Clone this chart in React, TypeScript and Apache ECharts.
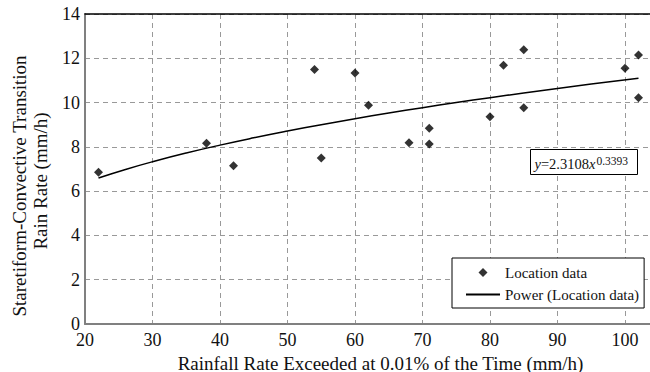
import React, { useEffect, useRef } from "react";
import * as echarts from "echarts";

const rainfallRate = [22, 38, 42, 54, 55, 60, 62, 68, 71, 71, 80, 82, 85, 85, 100, 102, 102];
const transitionRate = [6.85, 8.16, 7.15, 11.49, 7.5, 11.34, 9.88, 8.18, 8.84, 8.13, 9.36, 11.68, 12.38, 9.77, 11.55, 12.15, 10.22];

// Power trendline y = a * x^b, as printed on the chart
const fitA = 2.3108;
const fitB = 0.3393;
const fitX = [22, 26, 30, 35, 40, 45, 50, 55, 60, 65, 70, 75, 80, 85, 90, 95, 102];

const xTicks = [20, 30, 40, 50, 60, 70, 80, 90, 100];
const yTicks = [0, 2, 4, 6, 8, 10, 12, 14];

const yTitleLine1 = "Staretiform-Convective Transition";
const yTitleLine2 = "Rain Rate (mm/h)";

const FONT = "Liberation Serif";

export default function App() {
  const ref = useRef<HTMLDivElement>(null);
  useEffect(() => {
    if (!ref.current) return;
    const chart = echarts.init(ref.current, undefined, { renderer: "svg" });
    const scatterData = rainfallRate.map((x, i) => [x, transitionRate[i]]);
    const fitData = fitX.map((x) => [x, fitA * Math.pow(x, fitB)]);
    chart.setOption({
      animation: false,
      backgroundColor: "#ffffff",
      textStyle: { fontFamily: FONT },
      grid: {
        left: 85,
        top: 14,
        right: -2,
        bottom: 48,
        containLabel: false,
        outerBoundsMode: "none",
      },
      xAxis: [
        {
          type: "value",
          min: 20,
          max: 104,
          interval: 10,
          name: "Rainfall Rate Exceeded at 0.01% of the Time (mm/h)",
          nameLocation: "middle",
          nameGap: 30,
          nameTextStyle: {
            fontFamily: FONT,
            fontSize: 19,
            lineHeight: 17,
            color: "#111",
            padding: [0, 0, 0, 24],
          },
          axisLine: { show: true, lineStyle: { color: "#808080", width: 2 } },
          axisTick: { show: false },
          axisLabel: {
            fontFamily: FONT,
            fontSize: 18,
            lineHeight: 16,
            color: "#111",
            margin: 8,
            formatter: (v: number) => (xTicks.includes(v) ? String(v) : ""),
          },
          splitLine: { show: true, lineStyle: { color: "#999", type: [5, 4], width: 1 } },
        },
        {
          type: "value",
          position: "top",
          min: 20,
          max: 104,
          axisLine: { show: true, lineStyle: { color: "#000", width: 1.5 } },
          axisTick: { show: false },
          axisLabel: { show: false },
          splitLine: { show: false },
        },
      ],
      yAxis: {
        type: "value",
        min: 0,
        max: 14,
        interval: 2,
        axisLine: { show: true, lineStyle: { color: "#808080", width: 2 } },
        axisTick: { show: false },
        axisLabel: {
          fontFamily: FONT,
          fontSize: 18,
          lineHeight: 11,
          color: "#111",
          margin: 5,
          formatter: (v: number) => (yTicks.includes(v) ? String(v) : ""),
        },
        splitLine: { show: true, lineStyle: { color: "#999", type: [5, 4], width: 1 } },
      },
      legend: {
        orient: "vertical",
        left: 452,
        top: 258,
        z: 10,
        backgroundColor: "#ffffff",
        borderColor: "#000",
        borderWidth: 1,
        borderRadius: 0,
        padding: [7, 5, 6, 13],
        itemGap: 7,
        itemWidth: 34,
        itemHeight: 9,
        symbolKeepAspect: true,
        textStyle: { fontFamily: FONT, fontSize: 15, color: "#111" },
        data: [
          { name: "Location data", icon: "path://M5,0L10,5L5,10L0,5Z" },
          { name: "Power (Location data)", itemStyle: { opacity: 0 } },
        ],
      },
      graphic: [
        {
          type: "text",
          x: 19,
          y: 186,
          rotation: Math.PI / 2,
          style: {
            text: yTitleLine1,
            fontFamily: FONT,
            fontSize: 19,
            fill: "#111",
            align: "center",
            verticalAlign: "middle",
          },
        },
        {
          type: "text",
          x: 40,
          y: 181,
          rotation: Math.PI / 2,
          style: {
            text: yTitleLine2,
            fontFamily: FONT,
            fontSize: 19,
            fill: "#111",
            align: "center",
            verticalAlign: "middle",
          },
        },
        {
          type: "group",
          left: 530,
          top: 149,
          z: 100,
          children: [
            {
              type: "rect",
              z: 100,
              shape: { x: 0, y: 0, width: 107, height: 25 },
              style: { fill: "#fff", stroke: "#000", lineWidth: 1 },
            },
            {
              type: "text",
              z: 101,
              x: 4,
              y: 5,
              style: {
                text: "{i|y}{n|=2.3108}{i|x}{s|0.3393}",
                rich: {
                  i: { fontFamily: FONT, fontSize: 14.5, fontStyle: "italic", fill: "#111" },
                  n: { fontFamily: FONT, fontSize: 14.5, fill: "#111" },
                  s: { fontFamily: FONT, fontSize: 11.5, fill: "#111", padding: [0, 0, 6, 1] },
                },
              },
            },
          ],
        },
      ],
      series: [
        {
          name: "Location data",
          type: "scatter",
          symbol: "diamond",
          symbolSize: 9,
          itemStyle: { color: "#000" },
          data: scatterData,
          z: 3,
        },
        {
          name: "Power (Location data)",
          type: "line",
          symbol: "none",
          smooth: true,
          lineStyle: { color: "#000", width: 1.5 },
          itemStyle: { color: "#000" },
          data: fitData,
          z: 2,
        },
      ],
    });
    return () => chart.dispose();
  }, []);
  return (
    <div
      ref={ref}
      style={{ position: "absolute", left: 0, top: 0, width: 650, height: 372 }}
    />
  );
}
